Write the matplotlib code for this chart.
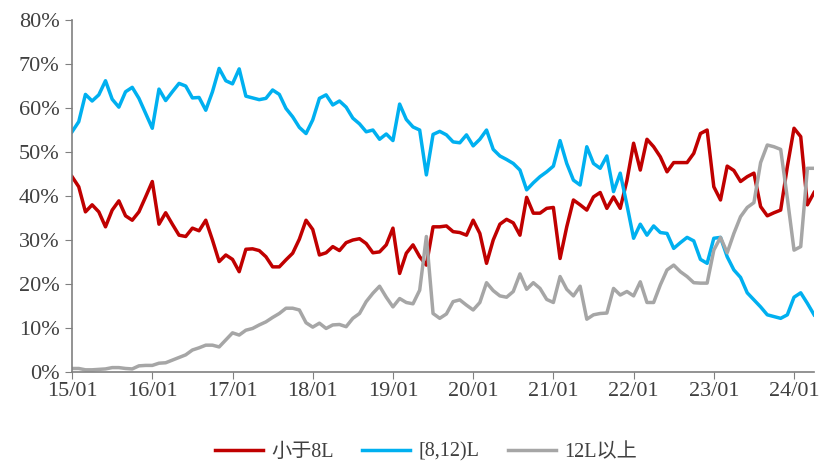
import numpy as np
import matplotlib.pyplot as plt
from matplotlib.ticker import FuncFormatter

plt.rcParams['font.family'] = ['Liberation Serif', 'Noto Sans CJK SC', 'DejaVu Sans']

# monthly share, 15/01 .. 24/04
red = [44.4,42.1,36.4,38.0,36.4,33.0,36.8,38.9,35.5,34.5,
       36.4,39.8,43.3,33.6,36.2,33.6,31.1,30.8,32.7,32.1,
       34.5,30.0,25.1,26.6,25.6,22.8,27.9,28.0,27.6,26.2,
       23.9,23.9,25.5,27.0,30.2,34.5,32.4,26.6,27.1,28.5,
       27.6,29.4,30.0,30.3,29.2,27.1,27.3,28.9,32.7,22.4,
       27.0,28.9,26.2,24.3,33.0,33.0,33.2,31.9,31.7,31.1,
       34.5,31.5,24.7,30.0,33.6,34.7,33.9,31.1,39.7,36.1,
       36.1,37.2,37.4,25.8,33.0,39.1,38.0,36.8,39.8,40.8,
       37.2,39.8,37.2,43.5,52.0,45.9,52.9,51.2,48.9,45.5,
       47.6,47.6,47.6,49.7,54.2,55.0,42.1,39.1,46.8,45.8,
       43.3,44.4,45.2,37.6,35.5,36.2,36.8,46.7,55.4,53.5,38.0,40.8]
blue = [54.6,56.9,63.1,61.6,63.0,66.2,62.0,60.2,63.7,64.7,
        62.2,58.8,55.4,64.3,61.7,63.7,65.6,65.0,62.3,62.4,
        59.5,63.7,69.0,66.2,65.5,68.9,62.7,62.3,61.9,62.2,
        64.1,63.1,59.9,58.0,55.6,54.2,57.3,62.2,63.0,60.7,
        61.6,60.2,57.7,56.4,54.6,55.0,52.9,54.1,52.6,60.9,
        57.4,55.7,55.0,44.8,54.0,54.7,53.9,52.3,52.1,53.9,
        51.4,52.9,55.0,50.6,49.1,48.3,47.4,45.9,41.4,43.0,
        44.4,45.5,46.8,52.6,47.4,43.6,42.5,51.2,47.4,46.3,
        49.1,41.0,45.2,38.0,30.4,33.6,31.1,33.2,31.7,31.5,
        28.1,29.4,30.6,29.8,25.6,24.7,30.4,30.6,26.2,23.2,
        21.5,18.0,16.4,14.8,13.0,12.6,12.2,13.0,17.0,18.0,15.6,13.0]
gray = [0.8,0.8,0.5,0.5,0.6,0.7,1.0,1.0,0.8,0.7,
        1.4,1.5,1.5,2.0,2.1,2.7,3.3,3.9,5.0,5.5,
        6.1,6.1,5.7,7.3,8.9,8.4,9.5,9.9,10.7,11.4,
        12.4,13.3,14.5,14.5,14.1,11.2,10.2,11.1,9.9,10.7,
        10.8,10.3,12.2,13.3,16.0,17.9,19.5,17.0,14.8,16.7,
        15.8,15.5,18.6,30.8,13.3,12.2,13.2,16.0,16.4,15.2,
        14.1,15.8,20.3,18.5,17.3,17.0,18.3,22.3,18.8,20.3,
        19.0,16.5,15.8,21.7,18.8,17.3,19.5,12.0,13.0,13.3,
        13.4,19.0,17.5,18.3,17.3,20.5,15.8,15.8,19.8,23.2,
        24.3,22.8,21.7,20.3,20.2,20.2,27.7,30.6,27.1,31.5,
        35.3,37.4,38.5,47.6,51.6,51.2,50.6,39.5,27.7,28.5,46.3,46.3]
names = ["小于8L", "[8,12)L", "12L以上"]
year_labels = ["15/01","16/01","17/01","18/01","19/01","20/01","21/01","22/01","23/01","24/01"]

x = np.arange(len(red))
fig = plt.figure(figsize=(8.19, 4.66), dpi=100)
ax = fig.add_axes([0.088, 0.2017, 0.906, 0.7553])

ax.plot(x, red, color="#C00000", lw=2.5, label=names[0])
ax.plot(x, blue, color="#00B0F0", lw=2.5, label=names[1])
ax.plot(x, gray, color="#A6A6A6", lw=2.5, label=names[2])

ax.set_xlim(0, len(red) - 1)
ax.set_ylim(0, 80)
ax.set_yticks(np.arange(0, 81, 10))
ax.yaxis.set_major_formatter(FuncFormatter(lambda v, p: f"{v:.0f}%"))
ax.set_xticks(np.arange(0, len(year_labels) * 12, 12))
ax.set_xticklabels(year_labels)

for s in ["top", "right"]:
    ax.spines[s].set_visible(False)
for s in ["left", "bottom"]:
    ax.spines[s].set_color("#808080")
    ax.spines[s].set_linewidth(1.2)
ax.tick_params(axis="both", direction="out", length=5, color="#808080",
               labelsize=16, labelcolor="#404040")
ax.tick_params(axis="y", pad=4)
ax.tick_params(axis="x", pad=2)

fig.legend(loc="lower center", bbox_to_anchor=(0.52, -0.03), ncol=3, frameon=False,
           fontsize=14.5, handlelength=2.4, handletextpad=0.4, columnspacing=1.4,
           labelcolor="#404040")

fig.savefig("out.png", dpi=100)
